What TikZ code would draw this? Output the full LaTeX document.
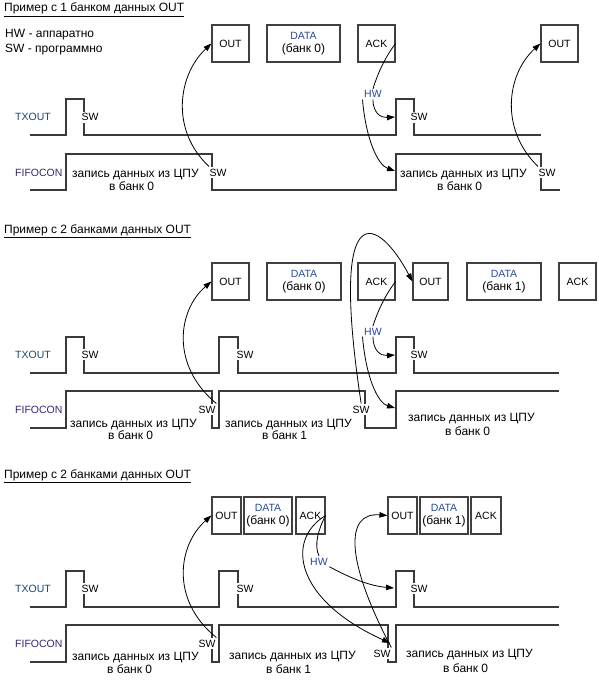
\documentclass[tikz,border=0pt]{standalone}
\usepackage{fontspec}
\setmainfont{Liberation Sans}
\usetikzlibrary{arrows.meta}
\definecolor{linec}{HTML}{3A3A3A}
\definecolor{boxc}{HTML}{404040}
\definecolor{sigc}{HTML}{1E4A6E}
\definecolor{fifc}{HTML}{3A2470}
\definecolor{hwc}{HTML}{2846A0}
\definecolor{datac}{HTML}{2A4A9A}
\newcommand{\latfont}{\fontsize{10.5}{13}\selectfont}
\tikzset{
 every node/.style={font=\fontsize{12}{13.5}\selectfont},
 txt/.style={anchor=base west, inner sep=0pt},
 lat/.style={font=\latfont},
 swl/.style={anchor=base west, inner xsep=0.5pt, inner ysep=2pt, fill=white, font=\latfont},
 hwl/.style={anchor=base west, inner sep=1.5pt, text=hwc, font=\latfont},
 wave/.style={draw=linec, line width=1.4pt},
 box/.style={draw=boxc, line width=1.2pt, fill=white, inner sep=0pt, align=center, minimum height=37pt},
 arr/.style={-{Triangle[length=8pt,width=5.5pt]}, line width=0.8pt},
 link/.style={line width=0.8pt},
}
\newcommand{\datatxt}[1]{\textcolor{datac}{\latfont DATA}\\(банк #1)}
\begin{document}
\begin{tikzpicture}[x=1pt,y=-1pt]
\useasboundingbox[fill=white] (0,0) rectangle (598,682);

% ================= Section 1 =================
\node[txt] (title1) at (4,12) {\underline{Пример с 1 банком данных OUT}};
\node[txt] (leg1) at (5,38) {HW - аппаратно};
\node[txt] (leg2) at (5,53) {SW - программно};

\node[box, lat, minimum width=37pt] (out1a) at (230.5,43.5) {OUT};
\node[box, minimum width=73pt] (data1a) at (303.5,43.5) {\datatxt{0}};
\node[box, lat, minimum width=37pt] (ack1a) at (376.5,43.5) {ACK};
\node[box, lat, minimum width=37pt] (out1b) at (559.5,43.5) {OUT};

\draw[wave] (30,135) -- (66,135) -- (66,99) -- (84,99) -- (84,135) -- (396,135) -- (396,99) -- (414,99) -- (414,135) -- (541,135);
\draw[wave] (30,190) -- (66,190) -- (66,154) -- (212,154) -- (212,190) -- (396,190) -- (396,154) -- (541,154) -- (541,190) -- (560,190);

\node[txt, lat, text=sigc] (tx1) at (15,121) {TXOUT};
\node[txt, lat, text=fifc] (ff1) at (15,176) {FIFOCON};
\node[swl] (sw1a) at (81,121) {SW};
\node[swl] (sw1b) at (410,121) {SW};
\node[swl] (sw1f) at (209,176) {SW};
\node[swl] (sw1g) at (538,176) {SW};
\node[txt] (w1a) at (72,177) {запись данных из ЦПУ};
\node[txt] (b1a) at (109,190) {в банк 0};
\node[txt] (w1b) at (400,177) {запись данных из ЦПУ};
\node[txt] (b1b) at (437,190) {в банк 0};
\node[hwl] (hw1) at (362.5,98) {HW};
\coordinate (t1r) at (395,117);
\coordinate (f1r) at (395,171);

\draw[arr] (sw1f.north west) .. controls (170,130) and (178,75) .. (out1a.west);
\draw[link] (ack1a.east) .. controls (386,56) and (378,72) .. (hw1.north);
\draw[arr] (hw1.south) .. controls (373,112) and (380,118) .. (t1r);
\draw[arr] (hw1.south west) .. controls (366,140) and (378,165) .. (f1r);
\draw[arr] (sw1g.north west) .. controls (500,130) and (506,75) .. (out1b.west);

% ================= Section 2 =================
\node[txt] (title2) at (4,233) {\underline{Пример с 2 банками данных OUT}};

\node[box, lat, minimum width=37pt] (out2a) at (230.5,281.5) {OUT};
\node[box, minimum width=74pt] (data2a) at (304,281.5) {\datatxt{0}};
\node[box, lat, minimum width=37pt] (ack2a) at (376.5,281.5) {ACK};
\node[box, lat, minimum width=35pt] (out2b) at (430.5,281.5) {OUT};
\node[box, minimum width=74pt] (data2b) at (504,281.5) {\datatxt{1}};
\node[box, lat, minimum width=37pt] (ack2b) at (577.5,281.5) {ACK};

\draw[wave] (30,373) -- (66,373) -- (66,337) -- (84,337) -- (84,373) -- (219,373) -- (219,337) -- (238,337) -- (238,373) -- (396,373) -- (396,337) -- (414,337) -- (414,373) -- (559,373);
\draw[wave] (30,428) -- (66,428) -- (66,391) -- (212,391) -- (212,428) -- (219,428) -- (219,391) -- (365,391) -- (365,428) -- (396,428) -- (396,391) -- (559,391);

\node[txt, lat, text=sigc] (tx2) at (15,358) {TXOUT};
\node[txt, lat, text=fifc] (ff2) at (15,413) {FIFOCON};
\node[swl] (sw2a) at (81,358) {SW};
\node[swl] (sw2b) at (236,358) {SW};
\node[swl] (sw2c) at (410,358) {SW};
\node[swl] (sw2f) at (198,413) {SW};
\node[swl] (sw2g) at (352,413) {SW};
\node[txt] (w2a) at (70,427) {запись данных из ЦПУ};
\node[txt] (b2a) at (108,439) {в банк 0};
\node[txt] (w2b) at (225,427) {запись данных из ЦПУ};
\node[txt] (b2b) at (262,439) {в банк 1};
\node[txt] (w2c) at (408,421) {запись данных из ЦПУ};
\node[txt] (b2c) at (445,435) {в банк 0};
\node[hwl] (hw2) at (362.5,335) {HW};
\coordinate (t2r) at (395,355);
\coordinate (f2r) at (395,408);

\draw[arr] (sw2f.north east) .. controls (170,365) and (178,310) .. (out2a.west);
\draw[arr] (sw2g.north) .. controls (328,185) and (380,220) .. (out2b.west);
\draw[link] (ack2a.east) .. controls (386,294) and (378,310) .. (hw2.north);
\draw[arr] (hw2.south) .. controls (373,350) and (380,356) .. (t2r);
\draw[arr] (hw2.south west) .. controls (366,378) and (378,403) .. (f2r);

% ================= Section 3 =================
\node[txt] (title3) at (4,478) {\underline{Пример с 2 банками данных OUT}};

\node[box, lat, minimum width=29pt] (out3a) at (226.5,515.5) {OUT};
\node[box, minimum width=48pt] (data3a) at (268,515.5) {\datatxt{0}};
\node[box, lat, minimum width=29pt] (ack3a) at (310.5,515.5) {ACK};
\node[box, lat, minimum width=29pt] (out3b) at (402.5,515.5) {OUT};
\node[box, minimum width=48pt] (data3b) at (444,515.5) {\datatxt{1}};
\node[box, lat, minimum width=30pt] (ack3b) at (486,515.5) {ACK};

\draw[wave] (30,607) -- (66,607) -- (66,571) -- (84,571) -- (84,607) -- (219,607) -- (219,571) -- (238,571) -- (238,607) -- (396,607) -- (396,571) -- (414,571) -- (414,607) -- (559,607);
\draw[wave] (30,662) -- (66,662) -- (66,625) -- (212,625) -- (212,662) -- (219,662) -- (219,625) -- (388,625) -- (388,662) -- (396,662) -- (396,625) -- (559,625);

\node[txt, lat, text=sigc] (tx3) at (15,592) {TXOUT};
\node[txt, lat, text=fifc] (ff3) at (15,647) {FIFOCON};
\node[swl] (sw3a) at (81,592) {SW};
\node[swl] (sw3b) at (236,592) {SW};
\node[swl] (sw3c) at (410,592) {SW};
\node[swl] (sw3f) at (198,647) {SW};
\node[swl] (sw3g) at (373,657) {SW};
\node[txt] (w3a) at (72,660) {запись данных из ЦПУ};
\node[txt] (b3a) at (107,673) {в банк 0};
\node[txt] (w3b) at (229,659) {запись данных из ЦПУ};
\node[txt] (b3b) at (266,673) {в банк 1};
\node[txt] (w3c) at (406,657) {запись данных из ЦПУ};
\node[txt] (b3c) at (443,672) {в банк 0};
\node[hwl] (hw3) at (308.5,565) {HW};
\coordinate (t3r) at (394,588);
\coordinate (f3r) at (390,643);

\draw[arr] (sw3f.north east) .. controls (170,600) and (178,545) .. (out3a.west);
\draw[link] (ack3a.east) .. controls (318,530) and (314,545) .. (hw3.north);
\draw[arr] (ack3a.east) .. controls (285,540) and (295,600) .. (f3r);
\draw[arr] (hw3.south east) .. controls (350,578) and (370,586) .. (t3r);
\draw[arr] (sw3g.north east) .. controls (345,560) and (345,512) .. (out3b.west);
\end{tikzpicture}
\end{document}
